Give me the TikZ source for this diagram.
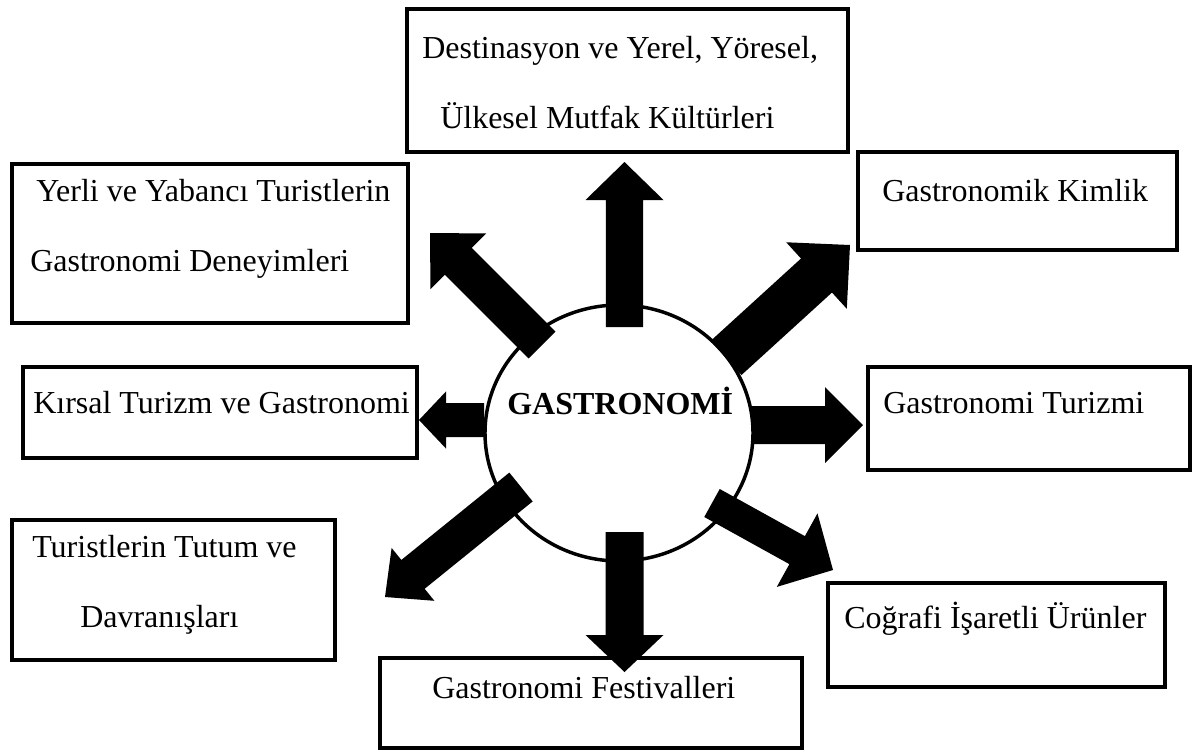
\documentclass[tikz,border=0pt]{standalone}
\usepackage{fontspec}
\setmainfont{Liberation Serif}
\usetikzlibrary{shapes.geometric, calc}

% filled block arrow: tail, tip, half shaft width, head length, half head width
\newcommand{\blockarrow}[5]{%
  \coordinate (hb) at ($(#2)!#4!(#1)$);
  \fill ($(#1)!#3!90:(#2)$) -- ($(hb)!#3!-90:(#1)$) -- ($(hb)!#5!-90:(#1)$) -- (#2)
     -- ($(hb)!#5!90:(#1)$) -- ($(hb)!#3!90:(#1)$) -- ($(#1)!#3!-90:(#2)$) -- cycle;
}

\begin{document}
\begin{tikzpicture}[x=0.75pt,y=0.75pt,yscale=-1,xscale=1,
  box/.style={draw, line width=3pt, inner sep=0pt},
  lbl/.style={anchor=base west, inner sep=0pt, font=\fontsize{24}{29}\selectfont}]
\useasboundingbox (0,0) rectangle (1197,751);

%centre
\node [draw, ellipse, line width=2.6pt, inner sep=0pt, minimum width=201pt, minimum height=192pt] (gastro) at (619,433) {};
\node [lbl, font=\fontsize{24}{29}\selectfont\bfseries] (gastrotxt) at (507,414) {GASTRONOMİ};

%boxes
\node [box, minimum width=330.75pt, minimum height=107.25pt] (dest) at (627.5,80.5) {};
\node [box, minimum width=297pt, minimum height=119.25pt] (yerli) at (210,243.5) {};
\node [box, minimum width=239.25pt, minimum height=73.5pt] (kimlik) at (1017.5,201) {};
\node [box, minimum width=295.5pt, minimum height=68.25pt] (kirsal) at (220,412.5) {};
\node [box, minimum width=241.5pt, minimum height=77.25pt] (turizm) at (1029,418.5) {};
\node [box, minimum width=242.25pt, minimum height=105pt] (tutum) at (173.5,590) {};
\node [box, minimum width=252.75pt, minimum height=78pt] (cografi) at (996.5,635) {};
\node [box, minimum width=316.5pt, minimum height=67.5pt] (festival) at (591,703) {};

%texts
\node [lbl] (dest1) at (422,58) {Destinasyon ve Yerel, Yöresel,};
\node [lbl] (dest2) at (440,128) {Ülkesel Mutfak Kültürleri};
\node [lbl] (yerli1) at (36,201) {Yerli ve Yabancı Turistlerin};
\node [lbl] (yerli2) at (30,271) {Gastronomi Deneyimleri};
\node [lbl] (kimlik1) at (882,201) {Gastronomik Kimlik};
\node [lbl] (kirsal1) at (33,413) {Kırsal Turizm ve Gastronomi};
\node [lbl] (turizm1) at (883,413) {Gastronomi Turizmi};
\node [lbl] (tutum1) at (32,557) {Turistlerin Tutum ve};
\node [lbl] (tutum2) at (80,627) {Davranışları};
\node [lbl] (cografi1) at (844,628) {Coğrafi İşaretli Ürünler};
\node [lbl] (festival1) at (432,698) {Gastronomi Festivalleri};

%arrows
\coordinate (nt) at (624.5,327);  \coordinate (nh) at (624.5,162);
\coordinate (st) at (624.5,532);  \coordinate (sh) at (624.5,672);
\coordinate (et) at (752,425);    \coordinate (eh) at (863,425);
\coordinate (wt) at (484,420);    \coordinate (wh) at (419,420);
\coordinate (nwt) at (542,345);   \coordinate (nwh) at (430,233);
\coordinate (net) at (726,358);   \coordinate (neh) at (850,245);
\coordinate (swt) at (521,487);   \coordinate (swh) at (385,597);
\coordinate (set) at (712,503);   \coordinate (seh) at (833,570);
\blockarrow{nt}{nh}{13.9pt}{28.5pt}{29.25pt}
\blockarrow{st}{sh}{14.25pt}{27.75pt}{29.25pt}
\blockarrow{et}{eh}{14.25pt}{28.5pt}{28.5pt}
\blockarrow{wt}{wh}{12.75pt}{20.25pt}{21.4pt}
\blockarrow{nwt}{nwh}{14.25pt}{30pt}{29.5pt}
\blockarrow{net}{neh}{17.25pt}{34pt}{33.75pt}
\blockarrow{swt}{swh}{13.9pt}{27pt}{25.5pt}
\blockarrow{set}{seh}{12pt}{30.75pt}{31.5pt}
\end{tikzpicture}
\end{document}
